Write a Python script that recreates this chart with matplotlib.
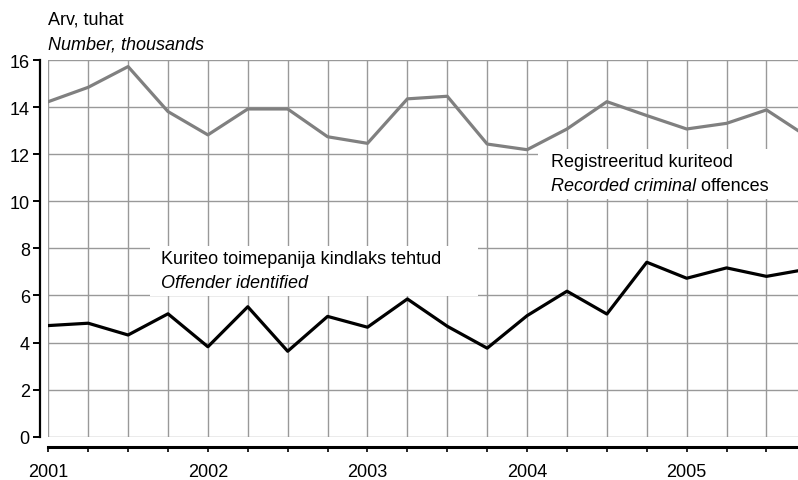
import matplotlib
matplotlib.use("Agg")
import matplotlib.pyplot as plt
from matplotlib.patches import Rectangle

plt.rcParams['font.family'] = ['Liberation Sans', 'DejaVu Sans']
plt.rcParams['font.size'] = 13

# ---------------------------------------------------
# Andmed (kvartalid 2001 I - 2005 IV)
# ---------------------------------------------------
kvartal = list(range(20))
registreeritud = [14.23, 14.84, 15.72, 13.81, 12.82, 13.92, 13.92, 12.74, 12.46, 14.35,
                  14.46, 12.43, 12.19, 13.07, 14.23, 13.64, 13.07, 13.31, 13.88, 12.77]
kindlaks = [4.72, 4.82, 4.32, 5.22, 3.82, 5.52, 3.63, 5.11, 4.65, 5.85,
            4.69, 3.76, 5.14, 6.18, 5.21, 7.41, 6.73, 7.17, 6.81, 7.11]
aastad = ["2001", "2002", "2003", "2004", "2005"]

W, H = 798, 481
fig = plt.figure(figsize=(W / 100, H / 100), dpi=100)
ax = fig.add_axes([48.3 / W, 1 - 437.7 / H, 1 - 48.3 / W, (437.7 - 61) / H])

ax.plot(kvartal, registreeritud, color="#808080", lw=2.3, zorder=3)
ax.plot(kvartal, kindlaks, color="black", lw=2.3, zorder=3)

ax.set_xlim(0, 18.79)
ax.set_ylim(0, 16)

# ruudustik
ax.set_axisbelow(True)
ax.set_xticks(range(19))
ax.set_xticklabels([aastad[i // 4] if i % 4 == 0 else "" for i in range(19)])
ax.set_yticks(range(0, 17, 2))
ax.grid(True, color="#999999", lw=1.0)

# teljed
for s in ["top", "right"]:
    ax.spines[s].set_visible(False)
ax.spines["left"].set_position(("outward", 5.8))
ax.spines["left"].set_linewidth(1.6)
ax.spines["bottom"].set_position(("outward", 7.6))
ax.spines["bottom"].set_linewidth(2.2)
ax.tick_params(axis="y", length=5, width=1.4, pad=2.5, labelsize=13)
ax.tick_params(axis="x", length=3.6, width=1.2, pad=8, labelsize=13)

# siltide taustad
ax.add_patch(Rectangle((12.27, 10.1), 6.6, 2.12, facecolor="white", edgecolor="none", zorder=1))
ax.add_patch(Rectangle((2.55, 5.97), 8.22, 2.13, facecolor="white", edgecolor="none", zorder=1))

ax.text(12.6, 11.7, "Registreeritud kuriteod", va="center", ha="left", zorder=4)
t1 = ax.text(12.6, 10.68, "Recorded criminal", style="italic", va="center", ha="left", zorder=4)
ax.annotate(" offences", xy=(1, 0), xycoords=t1, va="bottom", ha="left", zorder=4)

ax.text(2.82, 7.58, "Kuriteo toimepanija kindlaks tehtud", va="center", ha="left", zorder=4)
ax.text(2.82, 6.56, "Offender identified", style="italic", va="center", ha="left", zorder=4)

fig.text(48 / W, 1 - 20 / H, "Arv, tuhat", va="center", ha="left")
fig.text(48 / W, 1 - 45 / H, "Number, thousands", va="center", ha="left", style="italic")

fig.savefig("out.png", dpi=100)
